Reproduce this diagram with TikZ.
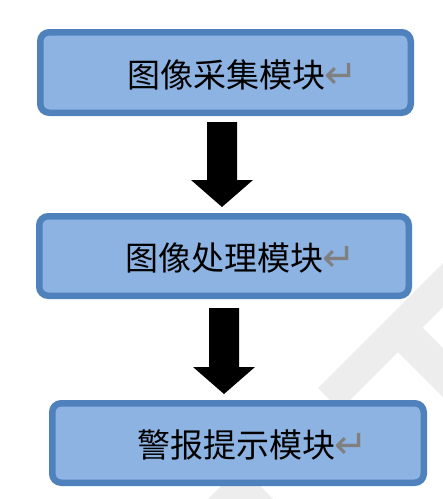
\documentclass[tikz,border=0pt]{standalone}
\usepackage{fontspec}
\newfontfamily\cjk{Noto Sans CJK SC}
\newfontfamily\symfont{DejaVu Sans}
\definecolor{boxfill}{HTML}{8DB3E2}
\definecolor{boxline}{HTML}{4F81BD}
\definecolor{wmark}{HTML}{EDEDED}
\definecolor{retgray}{HTML}{808080}
\begin{document}
\begin{tikzpicture}[x=1pt,y=-1pt,
  modbox/.style={draw=boxline, fill=boxfill, line width=6.5pt, rounded corners=9pt},
  lbl/.style={font=\cjk\fontsize{33}{36}\selectfont, inner sep=0pt, anchor=west, text=black},
  ret/.style={font=\symfont\fontsize{40}{40}\selectfont, inner sep=0pt, anchor=west, text=retgray},
  blockarrow/.style={fill=black},
  watermark/.style={fill=wmark}]
\useasboundingbox (0,0) rectangle (443,499);
% watermark
\fill[watermark] (318,388) -- (443,263) -- (443,307) -- (340,410) -- cycle;
\fill[watermark] (400.5,305.5) -- (443,348) -- (443,397) -- (398,352) -- cycle;
\fill[watermark] (208,499) -- (232,475) -- (250,475) -- (273,499) -- cycle;
% boxes
\draw[modbox] (40.25,32.25) rectangle (410.75,112.75);
\draw[modbox] (39.25,216.25) rectangle (408.75,295.75);
\draw[modbox] (52.25,403.25) rectangle (423.75,482.75);
% labels
\node[lbl] (t1) at (127,75) {图像采集模块};
\node[ret] (r1) at ([xshift=-1pt,yshift=-1pt]t1.east) {↵};
\node[lbl] (t2) at (125,258) {图像处理模块};
\node[ret] (r2) at ([xshift=-1pt,yshift=-1pt]t2.east) {↵};
\node[lbl] (t3) at (137,445) {警报提示模块};
\node[ret] (r3) at ([xshift=-1pt,yshift=-1pt]t3.east) {↵};
% block arrows
\fill[blockarrow] (207,122) -- (237,122) -- (237,180) -- (253,180) -- (222,207) -- (191,180) -- (207,180) -- cycle;
\fill[blockarrow] (209,308) -- (239,308) -- (239,367) -- (255,367) -- (224,394) -- (193,367) -- (209,367) -- cycle;
\end{tikzpicture}
\end{document}
